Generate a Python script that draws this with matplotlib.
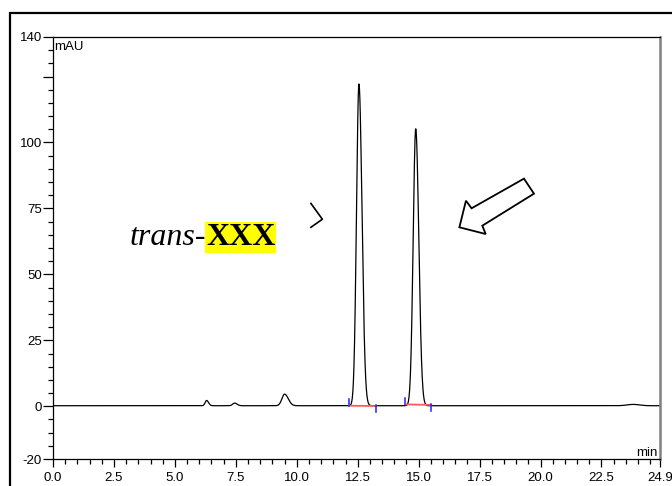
import numpy as np
import matplotlib
matplotlib.use("Agg")
import matplotlib.pyplot as plt
from matplotlib.patches import Polygon, Rectangle

plt.rcParams['font.family'] = ['Liberation Sans', 'DejaVu Sans']

# Peak table of the chromatogram (retention time in min, height in mAU)
peak_rt = [6.30, 7.45, 9.50, 12.55, 14.88, 23.80]
peak_height = [2.0, 1.0, 4.4, 122.0, 105.0, 0.5]
peak_sigma_left = [0.06, 0.08, 0.11, 0.100, 0.105, 0.25]
peak_sigma_right = [0.08, 0.10, 0.15, 0.125, 0.125, 0.25]
baseline_level = 0.2

# Integration events for the two main peaks
int_start = [12.14, 14.46]
int_end = [13.26, 15.52]
int_base_start = [0.2, 0.7]
int_base_end = [0.1, 0.5]

x_major = [0.0, 2.5, 5.0, 7.5, 10.0, 12.5, 15.0, 17.5, 20.0, 22.5, 24.9]
y_major = [-20, 0, 25, 50, 75, 100, 125, 140]
y_labels = ['-20', '0', '25', '50', '75', '100', '', '140']

t = np.linspace(0, 24.9, 6000)
signal = np.full_like(t, baseline_level)
for rt, h, sl, sr in zip(peak_rt, peak_height, peak_sigma_left, peak_sigma_right):
    s = np.where(t < rt, sl, sr)
    signal += h * np.exp(-0.5 * ((t - rt) / s) ** 2)

fig = plt.figure(figsize=(6.72, 4.86), dpi=100)
ax = fig.add_axes([53 / 672, 1 - 459 / 486, 607 / 672, 422 / 486])

ax.plot(t, signal, color='black', lw=0.9)

for xs, xe, bs, be in zip(int_start, int_end, int_base_start, int_base_end):
    ax.plot([xs, xe], [bs, be], color='#ff5a5a', lw=1.3, zorder=3)
    ax.plot([xs, xs], [bs, bs + 2.5], color='#2020ff', lw=1.1, zorder=4)
    ax.plot([xe, xe], [be + 0.5, be - 2.3], color='#2020ff', lw=1.1, zorder=4)

ax.set_xlim(0, 24.9)
ax.set_ylim(-20, 140)
ax.set_xticks(x_major)
ax.set_xticklabels([f"{v:.1f}" for v in x_major])
ax.set_xticks(np.arange(0, 24.9, 0.5), minor=True)
ax.set_yticks(y_major)
ax.set_yticklabels(y_labels)
ax.set_yticks(np.arange(-20, 141, 5), minor=True)

ax.tick_params(axis='x', which='major', direction='out', length=6, width=0.9,
               labelsize=9.5, pad=3)
ax.tick_params(axis='x', which='minor', direction='out', length=3.5, width=0.9)
ax.tick_params(axis='y', which='major', direction='out', length=7, width=0.9,
               labelsize=9.5, pad=1)
ax.tick_params(axis='y', which='minor', direction='out', length=3.5, width=0.9)

for side in ['left', 'bottom', 'top']:
    ax.spines[side].set_linewidth(0.9)
    ax.spines[side].set_color('black')
ax.spines['right'].set_color('#808080')
ax.spines['right'].set_linewidth(1.8)

ax.text(0.05, 138.6, 'mAU', fontsize=9.5, va='top', ha='left')
ax.text(24.8, -18.9, 'min', fontsize=9.5, va='baseline', ha='right')

# Compound label
ax.text(6.28, 61.1, 'trans-', family=['Liberation Serif'], style='italic',
        fontsize=23, ha='right', va='baseline')
ax.text(6.28, 61.1, 'XXX', family=['Liberation Serif'], weight='bold',
        fontsize=23, ha='left', va='baseline',
        bbox=dict(boxstyle='square,pad=0.02', facecolor='#ffff00', edgecolor='none'))

# Partial chevron and hollow arrow pointing at the second peak
ax.plot([10.58, 11.05, 10.58], [76.9, 70.9, 67.85], color='black', lw=1.2,
        clip_on=False)
arrow_pts = [(16.67, 67.85), (16.94, 77.93), (17.17, 75.05), (19.32, 86.3),
             (19.73, 80.6), (17.61, 68.45), (17.75, 65.3)]
ax.add_patch(Polygon(arrow_pts, closed=True, fill=False, edgecolor='black',
                     lw=1.3, joinstyle='miter'))

# Outer frame of the report page
fig.patches.append(Rectangle((10 / 672, -0.1), 1.2, 1 - 13 / 486 + 0.1,
                             transform=fig.transFigure, fill=False,
                             edgecolor='black', lw=1.6))

fig.savefig('out.png', dpi=100)
